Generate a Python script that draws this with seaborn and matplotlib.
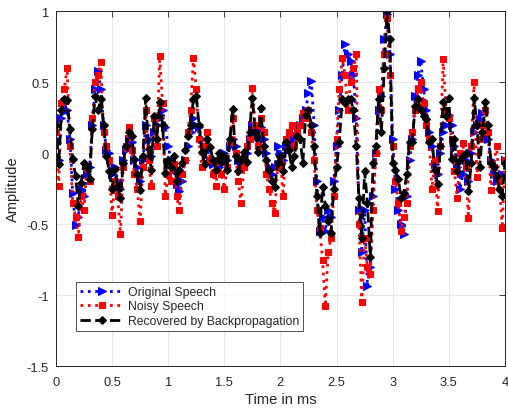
import numpy as np
import pandas as pd
import matplotlib
matplotlib.use("Agg")
import matplotlib.pyplot as plt
import seaborn as sns
from matplotlib.ticker import FuncFormatter

# ---------------- data ----------------
time_ms = np.round(np.arange(0, 4.0001, 0.025), 3)

original = [
    0.10, -0.05, 0.25, 0.35, 0.30, 0.10, -0.28, -0.51, -0.45, -0.25,
    -0.30, -0.15, -0.10, 0.20, 0.45, 0.58, 0.45, 0.20, 0.02, 0.00,
    -0.15, -0.10, -0.20, -0.25, -0.05, 0.02, 0.10, 0.08, -0.05, -0.10,
    -0.20, -0.05, 0.20, 0.10, -0.02, 0.15, 0.20, 0.25, 0.30, 0.18,
    0.05, -0.05, -0.12, -0.22, -0.27, -0.20, -0.05, 0.05, 0.15, 0.25,
    0.20, 0.18, 0.10, 0.05, 0.02, -0.05, -0.08, -0.05, -0.10, -0.08,
    0.00, -0.05, 0.05, 0.10, 0.05, -0.05, -0.10, -0.05, 0.00, 0.10,
    0.20, 0.15, 0.12, 0.18, 0.10, 0.00, -0.10, -0.15, -0.10, 0.05,
    0.00, -0.05, 0.05, 0.02, 0.05, 0.10, 0.12, 0.20, 0.25, 0.30,
    0.42, 0.51, 0.20, -0.20, -0.55, -0.45, -0.55, -0.40, -0.45, -0.20,
    0.05, 0.30, 0.55, 0.77, 0.70, 0.65, 0.55, 0.25, -0.40, -0.70,
    -0.40, -0.94, -0.80, -0.30, 0.00, 0.30, 0.40, 0.80, 0.98, 0.70,
    0.10, -0.25, -0.40, -0.50, -0.57, -0.30, -0.05, 0.10, 0.40, 0.55,
    0.65, 0.45, 0.30, 0.15, 0.05, -0.08, -0.15, 0.00, 0.15, 0.20,
    0.27, 0.20, 0.05, -0.10, -0.25, -0.15, -0.05, -0.20, 0.00, 0.15,
    0.20, 0.24, 0.28, 0.20, 0.10, -0.05, -0.15, -0.20, -0.18, -0.15,
    -0.05,
]

noisy = [
    0.15, -0.23, 0.35, 0.45, 0.60, 0.05, -0.35, -0.45, -0.59, -0.30,
    -0.40, -0.10, -0.20, 0.25, 0.50, 0.55, 0.64, 0.15, 0.05, -0.05,
    -0.44, -0.20, -0.30, -0.57, -0.10, 0.05, 0.18, 0.02, -0.15, -0.25,
    -0.48, -0.10, 0.30, -0.05, -0.23, 0.25, 0.05, 0.68, 0.35, -0.30,
    -0.15, -0.20, -0.08, -0.30, -0.40, -0.15, -0.05, 0.15, 0.30, 0.67,
    0.45, 0.10, -0.10, 0.05, 0.15, -0.05, -0.15, -0.23, -0.05, -0.15,
    -0.25, -0.10, 0.08, 0.25, 0.00, -0.20, -0.35, -0.10, 0.05, 0.10,
    0.46, 0.20, 0.05, 0.25, 0.15, -0.15, -0.25, -0.35, -0.42, -0.10,
    -0.05, -0.30, 0.10, 0.15, 0.20, 0.05, 0.15, 0.20, 0.28, 0.25,
    0.30, 0.15, -0.05, -0.40, -0.53, -0.75, -1.08, -0.70, -0.60, -0.30,
    0.10, 0.45, 0.67, 0.55, 0.30, 0.50, 0.60, 0.70, -0.50, -1.05,
    -0.60, -0.80, -0.85, -0.40, 0.00, 0.45, 0.30, 0.70, 0.95, 0.55,
    0.05, -0.20, -0.35, -0.55, -0.45, -0.35, 0.05, 0.15, 0.30, 0.45,
    0.50, 0.35, 0.20, 0.10, -0.25, -0.05, -0.41, 0.05, 0.66, 0.30,
    0.25, 0.10, -0.13, -0.32, 0.00, 0.07, -0.10, -0.46, 0.05, 0.50,
    -0.17, 0.10, 0.20, 0.30, 0.15, -0.26, -0.10, 0.05, -0.20, -0.53,
    -0.05,
]

recovered = [
    0.20, -0.08, 0.30, 0.38, 0.37, 0.17, -0.04, -0.16, -0.37, -0.21,
    -0.07, -0.10, -0.18, 0.17, 0.40, 0.30, 0.38, 0.20, -0.02, -0.13,
    -0.25, -0.11, -0.23, -0.32, -0.07, 0.05, 0.15, 0.12, -0.04, -0.15,
    -0.26, -0.02, 0.39, 0.03, -0.12, 0.26, 0.10, 0.36, 0.20, -0.14,
    -0.05, -0.10, -0.02, -0.20, -0.12, -0.07, 0.02, 0.12, 0.20, 0.38,
    0.40, 0.20, 0.01, -0.08, 0.10, 0.04, -0.05, -0.12, 0.00, -0.06,
    -0.02, -0.12, 0.10, 0.31, -0.02, -0.13, -0.05, 0.01, -0.06, 0.15,
    0.39, 0.15, 0.01, 0.32, 0.05, -0.05, -0.12, -0.20, -0.24, -0.07,
    -0.02, -0.13, 0.08, 0.02, -0.10, -0.02, 0.12, 0.10, -0.07, 0.27,
    0.30, 0.20, 0.05, -0.30, -0.56, -0.24, -0.37, -0.48, -0.56, -0.25,
    -0.10, 0.08, 0.38, 0.35, 0.38, 0.38, 0.30, 0.05, -0.32, -0.60,
    -0.13, -0.35, -0.73, -0.07, 0.05, 0.38, 0.15, 0.60, 1.00, 0.80,
    -0.07, -0.12, -0.18, -0.32, -0.28, -0.15, 0.08, 0.08, 0.33, 0.38,
    0.30, 0.26, 0.24, 0.08, 0.10, -0.12, -0.22, 0.05, 0.36, 0.26,
    0.39, -0.04, 0.10, -0.13, -0.05, -0.02, 0.00, -0.27, -0.07, 0.39,
    0.20, -0.10, 0.15, 0.36, 0.20, -0.07, -0.10, -0.16, -0.25, -0.30,
    -0.07,
]

series_names = ["Original Speech", "Noisy Speech", "Recovered by Backpropagation"]
x_ticks = [0, 0.5, 1, 1.5, 2, 2.5, 3, 3.5, 4]
y_ticks = [-1.5, -1, -0.5, 0, 0.5, 1]

df = pd.DataFrame({
    "t": time_ms,
    series_names[0]: original,
    series_names[1]: noisy,
    series_names[2]: recovered,
})

# ---------------- plot ----------------
sns.set_style("white")
plt.rcParams["font.family"] = ["Liberation Sans", "DejaVu Sans"]

fig = plt.figure(figsize=(5.08, 4.14), dpi=100)
ax = fig.add_axes([0.110, 0.1135, 0.884, 0.8575])

styles = [
    dict(color=(0, 0, 1), linestyle=":", marker=">", markersize=5.5, linewidth=2.0),
    dict(color=(1, 0, 0), linestyle=":", marker="s", markersize=4.0, linewidth=2.0),
    dict(color=(0, 0, 0), linestyle="--", marker="D", markersize=4.0, linewidth=2.0),
]
for name, st in zip(series_names, styles):
    sns.lineplot(data=df, x="t", y=name, ax=ax, label=name, sort=False,
                 markeredgecolor=st["color"], **st)

ax.set_xlim(0, 4)
ax.set_ylim(-1.5, 1)
ax.set_xticks(x_ticks)
ax.set_yticks(y_ticks)
fmt = FuncFormatter(lambda v, p: ("%g" % v))
ax.xaxis.set_major_formatter(fmt)
ax.yaxis.set_major_formatter(fmt)
ax.grid(True, color="#e6e6e6", linewidth=0.8)
ax.set_axisbelow(True)
ax.tick_params(direction="in", length=4, width=0.6, labelsize=9.3,
               top=True, right=True, colors="#262626")
ax.tick_params(axis="x", pad=7)
ax.tick_params(axis="y", pad=5)
for s in ax.spines.values():
    s.set_color("#262626")
    s.set_linewidth(0.7)
ax.set_xlabel("Time in ms", fontsize=10.5, color="#262626", labelpad=3)
ax.set_ylabel("Amplitude", fontsize=10.5, color="#262626", labelpad=5)

leg = ax.legend(loc="lower left", bbox_to_anchor=(0.044, 0.098), fontsize=8.8,
                frameon=True, fancybox=False, borderpad=0.35, labelspacing=0.2,
                handlelength=3.6, handletextpad=0.3, borderaxespad=0)
leg.get_frame().set_edgecolor("#262626")
leg.get_frame().set_linewidth(0.7)

fig.savefig("out.png", dpi=100)
